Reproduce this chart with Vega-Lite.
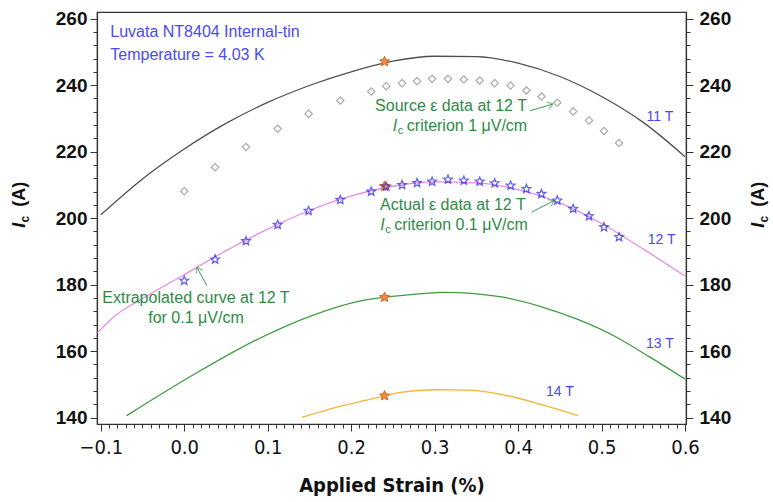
{
  "$schema": "https://vega.github.io/schema/vega-lite/v6.json",
  "width": 589,
  "height": 412,
  "autosize": {"type": "none"},
  "padding": {"left": 97, "top": 12, "right": 87, "bottom": 78},
  "background": "white",
  "datasets": {
    "curves": [
      {"field": "11 T", "strain": -0.1, "ic": 201.0},
      {"field": "11 T", "strain": -0.05, "ic": 211.8},
      {"field": "11 T", "strain": 0.0, "ic": 220.8},
      {"field": "11 T", "strain": 0.05, "ic": 228.5},
      {"field": "11 T", "strain": 0.1, "ic": 234.8},
      {"field": "11 T", "strain": 0.15, "ic": 239.9},
      {"field": "11 T", "strain": 0.2, "ic": 244.0},
      {"field": "11 T", "strain": 0.25, "ic": 247.2},
      {"field": "11 T", "strain": 0.3, "ic": 248.7},
      {"field": "11 T", "strain": 0.35, "ic": 248.6},
      {"field": "11 T", "strain": 0.4, "ic": 246.6},
      {"field": "11 T", "strain": 0.45, "ic": 242.6},
      {"field": "11 T", "strain": 0.5, "ic": 236.6},
      {"field": "11 T", "strain": 0.55, "ic": 228.8},
      {"field": "11 T", "strain": 0.6, "ic": 218.5},
      {"field": "12 T", "strain": -0.104, "ic": 165.5},
      {"field": "12 T", "strain": -0.085, "ic": 170.2},
      {"field": "12 T", "strain": -0.05, "ic": 175.8},
      {"field": "12 T", "strain": 0.0, "ic": 183.0},
      {"field": "12 T", "strain": 0.05, "ic": 190.2},
      {"field": "12 T", "strain": 0.1, "ic": 196.7},
      {"field": "12 T", "strain": 0.15, "ic": 202.3},
      {"field": "12 T", "strain": 0.2, "ic": 206.7},
      {"field": "12 T", "strain": 0.25, "ic": 209.6},
      {"field": "12 T", "strain": 0.3, "ic": 210.9},
      {"field": "12 T", "strain": 0.35, "ic": 210.6},
      {"field": "12 T", "strain": 0.4, "ic": 208.6},
      {"field": "12 T", "strain": 0.45, "ic": 204.6},
      {"field": "12 T", "strain": 0.5, "ic": 198.4},
      {"field": "12 T", "strain": 0.55, "ic": 190.7},
      {"field": "12 T", "strain": 0.6, "ic": 182.6},
      {"field": "13 T", "strain": -0.069, "ic": 140.6},
      {"field": "13 T", "strain": 0.013, "ic": 153.2},
      {"field": "13 T", "strain": 0.093, "ic": 164.2},
      {"field": "13 T", "strain": 0.153, "ic": 170.7},
      {"field": "13 T", "strain": 0.213, "ic": 175.2},
      {"field": "13 T", "strain": 0.241, "ic": 176.2},
      {"field": "13 T", "strain": 0.259, "ic": 176.7},
      {"field": "13 T", "strain": 0.311, "ic": 177.7},
      {"field": "13 T", "strain": 0.378, "ic": 176.4},
      {"field": "13 T", "strain": 0.43, "ic": 173.2},
      {"field": "13 T", "strain": 0.47, "ic": 169.7},
      {"field": "13 T", "strain": 0.518, "ic": 164.2},
      {"field": "13 T", "strain": 0.558, "ic": 158.2},
      {"field": "13 T", "strain": 0.6, "ic": 151.6},
      {"field": "14 T", "strain": 0.141, "ic": 140.1},
      {"field": "14 T", "strain": 0.19, "ic": 143.6},
      {"field": "14 T", "strain": 0.241, "ic": 146.6},
      {"field": "14 T", "strain": 0.259, "ic": 147.6},
      {"field": "14 T", "strain": 0.299, "ic": 148.4},
      {"field": "14 T", "strain": 0.339, "ic": 148.3},
      {"field": "14 T", "strain": 0.378, "ic": 147.1},
      {"field": "14 T", "strain": 0.426, "ic": 144.1},
      {"field": "14 T", "strain": 0.472, "ic": 140.6}
    ],
    "source": [
      {"strain": 0.0, "ic": 208.1}, {"strain": 0.037, "ic": 215.3}, {"strain": 0.074, "ic": 221.4},
      {"strain": 0.112, "ic": 226.9}, {"strain": 0.149, "ic": 231.4}, {"strain": 0.187, "ic": 235.4},
      {"strain": 0.224, "ic": 238.1}, {"strain": 0.242, "ic": 239.7}, {"strain": 0.261, "ic": 240.6},
      {"strain": 0.279, "ic": 241.2}, {"strain": 0.297, "ic": 241.9}, {"strain": 0.316, "ic": 241.9},
      {"strain": 0.335, "ic": 241.7}, {"strain": 0.354, "ic": 241.4}, {"strain": 0.372, "ic": 240.6},
      {"strain": 0.391, "ic": 239.9}, {"strain": 0.41, "ic": 238.4}, {"strain": 0.428, "ic": 236.6},
      {"strain": 0.447, "ic": 234.7}, {"strain": 0.466, "ic": 232.1}, {"strain": 0.485, "ic": 229.4},
      {"strain": 0.503, "ic": 226.2}, {"strain": 0.521, "ic": 222.6}
    ],
    "actual": [
      {"strain": 0.0, "ic": 181.2}, {"strain": 0.037, "ic": 187.6}, {"strain": 0.074, "ic": 193.1},
      {"strain": 0.112, "ic": 198.0}, {"strain": 0.149, "ic": 202.2}, {"strain": 0.187, "ic": 205.5},
      {"strain": 0.224, "ic": 208.0}, {"strain": 0.242, "ic": 209.5}, {"strain": 0.261, "ic": 210.0},
      {"strain": 0.279, "ic": 210.6}, {"strain": 0.297, "ic": 211.0}, {"strain": 0.316, "ic": 211.6},
      {"strain": 0.335, "ic": 211.3}, {"strain": 0.354, "ic": 211.0}, {"strain": 0.372, "ic": 210.5},
      {"strain": 0.391, "ic": 209.8}, {"strain": 0.41, "ic": 208.8}, {"strain": 0.428, "ic": 207.3},
      {"strain": 0.447, "ic": 205.3}, {"strain": 0.466, "ic": 202.8}, {"strain": 0.485, "ic": 200.6},
      {"strain": 0.503, "ic": 197.3}, {"strain": 0.521, "ic": 194.3}
    ],
    "peaks": [
      {"strain": 0.24, "ic": 247.1}, {"strain": 0.24, "ic": 209.6},
      {"strain": 0.24, "ic": 176.2}, {"strain": 0.24, "ic": 146.6}
    ],
    "fieldLabels": [
      {"strain": 0.57, "ic": 230.3, "label": "11 T"},
      {"strain": 0.572, "ic": 193.3, "label": "12 T"},
      {"strain": 0.57, "ic": 162.2, "label": "13 T"},
      {"strain": 0.45, "ic": 147.6, "label": "14 T"}
    ],
    "info": [
      {"strain": -0.0886, "ic": 256.0, "note": "Luvata NT8404 Internal-tin"},
      {"strain": -0.0886, "ic": 249.1, "note": "Temperature = 4.03 K"}
    ],
    "notes": [
      {"strain": 0.2287, "ic": 233.7, "note": "Source ε data at 12 T"},
      {"strain": 0.2347, "ic": 204.0, "note": "Actual ε data at 12 T"},
      {"strain": -0.0982, "ic": 176.1, "note": "Extrapolated curve at 12 T"},
      {"strain": -0.0431, "ic": 170.1, "note": "for 0.1 μV/cm"}
    ],
    "criteria": [
      {"strain": 0.2667, "ic": 227.8, "rest": "criterion 1 μV/cm"},
      {"strain": 0.2515, "ic": 197.8, "rest": "criterion 0.1 μV/cm"}
    ],
    "arrows": [
      {"arrow": "source", "strain": 0.4144, "ic": 232.3, "strain2": 0.4416, "ic2": 234.3},
      {"arrow": "actual", "strain": 0.4164, "ic": 201.8, "strain2": 0.4431, "ic2": 205.3},
      {"arrow": "extrapolated", "strain": 0.0272, "ic": 179.7, "strain2": 0.0152, "ic2": 185.2}
    ],
    "yTitles": [
      {"strain": -0.1968, "ic": 201.0},
      {"strain": 0.6885, "ic": 201.0}
    ]
  },
  "encoding": {
    "x": {
      "field": "strain",
      "type": "quantitative",
      "scale": {"domain": [-0.1045, 0.6012], "nice": false, "zero": false},
      "axis": {
        "orient": "bottom",
        "title": "Applied Strain (%)",
        "values": [-0.1, -0.09, -0.08, -0.07, -0.06, -0.05, -0.04, -0.03, -0.02, -0.01,
                   0, 0.01, 0.02, 0.03, 0.04, 0.05, 0.06, 0.07, 0.08, 0.09,
                   0.1, 0.11, 0.12, 0.13, 0.14, 0.15, 0.16, 0.17, 0.18, 0.19,
                   0.2, 0.21, 0.22, 0.23, 0.24, 0.25, 0.26, 0.27, 0.28, 0.29,
                   0.3, 0.31, 0.32, 0.33, 0.34, 0.35, 0.36, 0.37, 0.38, 0.39,
                   0.4, 0.41, 0.42, 0.43, 0.44, 0.45, 0.46, 0.47, 0.48, 0.49,
                   0.5, 0.51, 0.52, 0.53, 0.54, 0.55, 0.56, 0.57, 0.58, 0.59, 0.6],
        "labelExpr": "abs(datum.value * 10 - round(datum.value * 10)) < 0.001 ? format(datum.value, '.1f') : ''",
        "tickSize": {"condition": {"test": "abs(datum.value * 10 - round(datum.value * 10)) < 0.001", "value": 7}, "value": 4},
        "labelOverlap": false,
        "labelFlush": false,
        "labelFont": "Liberation Sans Narrow, DejaVu Sans Condensed, Liberation Sans, sans-serif",
        "labelFontSize": 20,
        "labelColor": "#111",
        "labelPadding": 6,
        "titleFont": "Liberation Sans Narrow, DejaVu Sans Condensed, Liberation Sans, sans-serif",
        "titleFontSize": 20,
        "titleFontWeight": "bold",
        "titleColor": "#111",
        "titlePadding": 18
      }
    },
    "y": {
      "field": "ic",
      "type": "quantitative",
      "scale": {"domain": [138.1, 262.0], "nice": false, "zero": false},
      "axis": null
    }
  },
  "layer": [
    {
      "data": {"name": "curves"},
      "mark": {"type": "line", "strokeWidth": 1.3, "interpolate": "monotone"},
      "encoding": {
        "y": {
          "field": "ic",
          "type": "quantitative",
          "scale": {"domain": [138.1, 262.0], "nice": false, "zero": false},
          "axis": {
            "orient": "left",
            "title": null,
            "values": [140, 144, 148, 152, 156, 160, 164, 168, 172, 176, 180, 184, 188, 192, 196, 200,
                       204, 208, 212, 216, 220, 224, 228, 232, 236, 240, 244, 248, 252, 256, 260],
            "labelExpr": "datum.value % 20 === 0 ? datum.label : ''",
            "tickSize": {"condition": {"test": "datum.value % 20 === 0", "value": 7}, "value": 4},
            "labelOverlap": false,
            "labelFlush": false,
            "labelFont": "Liberation Sans",
            "labelFontWeight": "bold",
            "labelFontSize": 19,
            "labelColor": "#111",
            "labelPadding": 3
          }
        },
        "color": {
          "field": "field",
          "type": "nominal",
          "scale": {"domain": ["11 T", "12 T", "13 T", "14 T"], "range": ["#4f4f4f", "#e58ee9", "#3f9c3f", "#f3b43a"]},
          "legend": null
        }
      }
    },
    {
      "data": {"name": "source"},
      "mark": {"type": "point", "shape": "M0,-1L1,0L0,1L-1,0Z", "filled": false, "stroke": "#8a8a8a", "strokeWidth": 1.2, "size": 55}
    },
    {
      "data": {"name": "peaks"},
      "mark": {"type": "point", "shape": "M0,-1L0.264,-0.363L0.951,-0.309L0.427,0.139L0.588,0.809L0,0.45L-0.588,0.809L-0.427,0.139L-0.951,-0.309L-0.264,-0.363Z", "filled": true, "fill": "#ef8e4a", "stroke": "#dc6418", "strokeWidth": 1, "size": 110, "opacity": 1},
      "encoding": {
        "y": {
          "field": "ic",
          "type": "quantitative",
          "scale": {"domain": [138.1, 262.0], "nice": false, "zero": false},
          "axis": {
            "orient": "right",
            "title": null,
            "values": [140, 144, 148, 152, 156, 160, 164, 168, 172, 176, 180, 184, 188, 192, 196, 200,
                       204, 208, 212, 216, 220, 224, 228, 232, 236, 240, 244, 248, 252, 256, 260],
            "labelExpr": "datum.value % 20 === 0 ? datum.label : ''",
            "tickSize": {"condition": {"test": "datum.value % 20 === 0", "value": 7}, "value": 4},
            "labelOverlap": false,
            "labelFlush": false,
            "labelFont": "Liberation Sans",
            "labelFontWeight": "bold",
            "labelFontSize": 19,
            "labelColor": "#111",
            "labelPadding": 6
          }
        }
      }
    },
    {
      "data": {"name": "actual"},
      "mark": {"type": "point", "shape": "M0,-1L0.264,-0.363L0.951,-0.309L0.427,0.139L0.588,0.809L0,0.45L-0.588,0.809L-0.427,0.139L-0.951,-0.309L-0.264,-0.363Z", "filled": false, "stroke": "#2020e8", "strokeWidth": 1.3, "size": 80}
    },
    {
      "data": {"name": "fieldLabels"},
      "mark": {"type": "text", "font": "Liberation Sans", "fontSize": 14, "color": "#4848f0", "align": "center", "baseline": "middle"},
      "encoding": {"text": {"field": "label"}}
    },
    {
      "data": {"name": "info"},
      "mark": {"type": "text", "font": "Liberation Sans", "fontSize": 16, "color": "#4a4af2", "align": "left", "baseline": "middle"},
      "encoding": {"text": {"field": "note"}}
    },
    {
      "data": {"name": "notes"},
      "mark": {"type": "text", "font": "Liberation Sans", "fontSize": 16, "color": "#2e8b45", "align": "left", "baseline": "middle"},
      "encoding": {"text": {"field": "note"}}
    },
    {
      "data": {"name": "criteria"},
      "mark": {"type": "text", "font": "Liberation Sans", "fontSize": 16, "color": "#2e8b45", "align": "left", "baseline": "middle"},
      "encoding": {"text": {"field": "rest"}}
    },
    {
      "data": {"name": "criteria"},
      "mark": {"type": "text", "font": "Liberation Sans", "fontSize": 16, "fontStyle": "italic", "color": "#2e8b45", "align": "right", "baseline": "middle", "dx": -9.5},
      "encoding": {"text": {"value": "I"}}
    },
    {
      "data": {"name": "criteria"},
      "mark": {"type": "text", "font": "Liberation Sans", "fontSize": 11, "color": "#2e8b45", "align": "right", "baseline": "middle", "dx": -3.5, "dy": 5},
      "encoding": {"text": {"value": "c"}}
    },
    {
      "data": {"name": "arrows"},
      "mark": {"type": "rule", "color": "#3a9a55", "strokeWidth": 1},
      "encoding": {
        "x2": {"field": "strain2"},
        "y2": {"field": "ic2"}
      }
    },
    {
      "data": {"name": "arrows"},
      "transform": [{"filter": "datum.arrow === 'source'"}],
      "mark": {"type": "point", "shape": "M-1,-0.7L0,0L-1,0.7", "filled": false, "stroke": "#3a9a55", "strokeWidth": 1, "size": 110, "angle": 344},
      "encoding": {
        "x": {"field": "strain2", "type": "quantitative"},
        "y": {"field": "ic2", "type": "quantitative", "axis": null}
      }
    },
    {
      "data": {"name": "arrows"},
      "transform": [{"filter": "datum.arrow === 'actual'"}],
      "mark": {"type": "point", "shape": "M-1,-0.7L0,0L-1,0.7", "filled": false, "stroke": "#3a9a55", "strokeWidth": 1, "size": 110, "angle": 332},
      "encoding": {
        "x": {"field": "strain2", "type": "quantitative"},
        "y": {"field": "ic2", "type": "quantitative", "axis": null}
      }
    },
    {
      "data": {"name": "arrows"},
      "transform": [{"filter": "datum.arrow === 'extrapolated'"}],
      "mark": {"type": "point", "shape": "M-1,-0.7L0,0L-1,0.7", "filled": false, "stroke": "#3a9a55", "strokeWidth": 1, "size": 110, "angle": 241},
      "encoding": {
        "x": {"field": "strain2", "type": "quantitative"},
        "y": {"field": "ic2", "type": "quantitative", "axis": null}
      }
    },
    {
      "data": {"name": "yTitles"},
      "mark": {"type": "text", "font": "Liberation Sans", "fontSize": 18, "fontWeight": "bold", "color": "#111", "angle": 270, "align": "left", "baseline": "middle", "dx": 8},
      "encoding": {"text": {"value": "(A)"}}
    },
    {
      "data": {"name": "yTitles"},
      "mark": {"type": "text", "font": "Liberation Sans", "fontSize": 12, "fontWeight": "bold", "color": "#111", "angle": 270, "align": "right", "baseline": "middle", "dx": -1, "dy": 5},
      "encoding": {"text": {"value": "c"}}
    },
    {
      "data": {"name": "yTitles"},
      "mark": {"type": "text", "font": "Liberation Sans", "fontSize": 18, "fontWeight": "bold", "fontStyle": "italic", "color": "#111", "angle": 270, "align": "right", "baseline": "middle", "dx": -8},
      "encoding": {"text": {"value": "I"}}
    }
  ],
  "resolve": {"axis": {"y": "independent"}},
  "config": {
    "view": {"stroke": "#333", "strokeWidth": 1.2},
    "axis": {"grid": false, "domainColor": "#333", "tickColor": "#333", "domainWidth": 1.2, "tickWidth": 1},
    "text": {"font": "Liberation Sans"}
  }
}
